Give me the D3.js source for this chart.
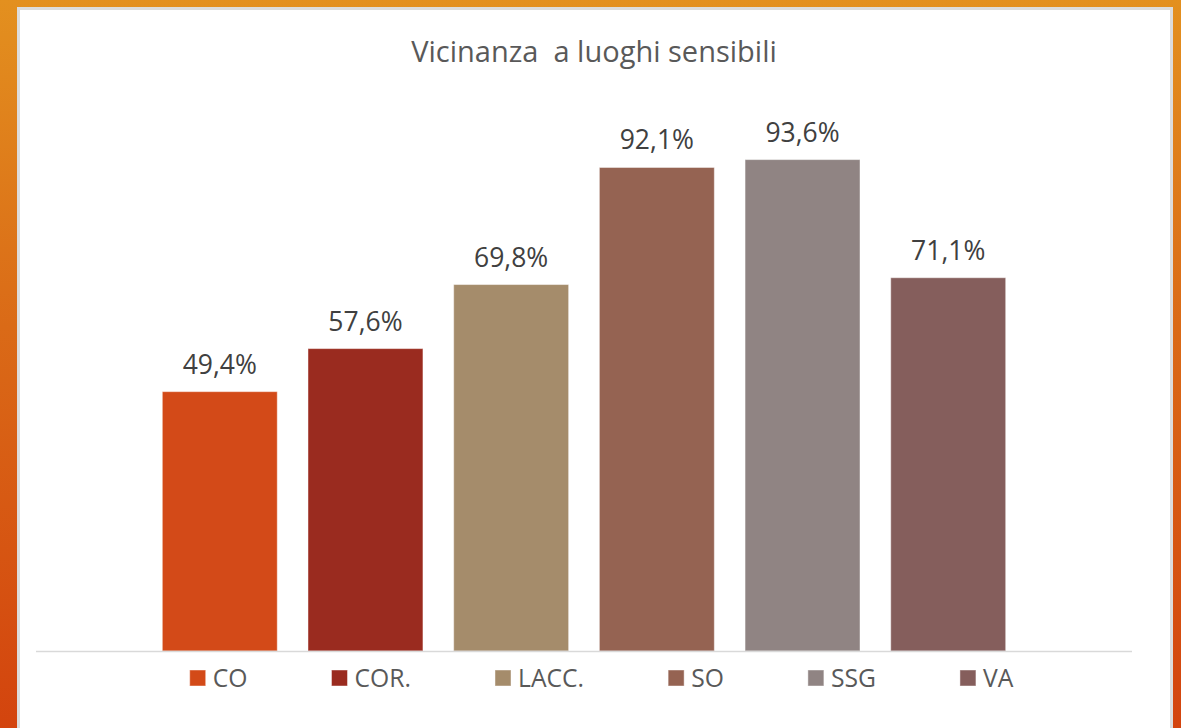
<!DOCTYPE html>
<html><head><meta charset="utf-8">
<script src="https://cdn.jsdelivr.net/npm/d3@7"></script>
<style>html,body{margin:0;padding:0;overflow:hidden;background:#fff}</style>
</head><body><svg id="c" width="1181" height="728"></svg>
<script>
const titleText = "Vicinanza  a luoghi sensibili";
const categories = ["CO", "COR.", "LACC.", "SO", "SSG", "VA"];
const values = [49.4, 57.6, 69.8, 92.1, 93.6, 71.1];
const colors = ["#D34A18", "#9A2B1F", "#A58C6B", "#956352", "#908483", "#855E5C"];
const yDomain = [0, 100];

const W = 1181, H = 728;
const FONT = "'Open Sans', 'Noto Sans', sans-serif";
const svg = d3.select("#c");

// background gradient
const defs = svg.append("defs");
const g = defs.append("linearGradient").attr("id", "bg").attr("x1", 0).attr("y1", 0).attr("x2", 0).attr("y2", 1);
g.append("stop").attr("offset", "0%").attr("stop-color", "#E3901F");
g.append("stop").attr("offset", "45%").attr("stop-color", "#DA6A17");
g.append("stop").attr("offset", "100%").attr("stop-color", "#D3440E");
svg.append("rect").attr("width", W).attr("height", H).attr("fill", "url(#bg)");

// white panel
svg.append("rect").attr("x", 18.5).attr("y", 8.5).attr("width", 1153).attr("height", H + 20)
  .attr("fill", "#fff").attr("stroke", "#DCDCDC").attr("stroke-width", 3);

const axisLeft = 36, axisRight = 1132, baseY = 651, topY = 126;
const x = d3.scaleBand().domain(categories).range([axisLeft, axisRight])
  .paddingInner(0.211).paddingOuter(0.867);
const y = d3.scaleLinear().domain(yDomain).range([baseY, topY]);

const loc = d3.formatLocale({decimal: ",", thousands: ".", grouping: [3], currency: ["", "€"]});
const fmt = v => loc.format(".1f")(v) + "%";

// title
svg.append("text").attr("x", 594).attr("y", 62).attr("text-anchor", "middle")
  .style("white-space", "pre").attr("xml:space", "preserve")
  .attr("font-family", FONT).attr("font-size", 29).attr("fill", "#595959").text(titleText);

// bars
svg.append("g").selectAll("rect").data(categories).join("rect")
  .attr("x", d => x(d)).attr("width", x.bandwidth())
  .attr("y", (d, i) => y(values[i])).attr("height", (d, i) => y(0) - y(values[i]))
  .attr("fill", (d, i) => colors[i])
  .attr("stroke", "#fff").attr("stroke-opacity", 0.45).attr("stroke-width", 1);

// axis line
const xAxis = d3.axisBottom(x).tickSize(0).tickFormat("");
const ax = svg.append("g").attr("transform", `translate(0,${baseY})`).call(xAxis);
ax.select(".domain").attr("d", `M${axisLeft},0.5H${axisRight}`).attr("stroke", "#D9D9D9").attr("stroke-width", 1.5);

// value labels
svg.append("g").selectAll("text").data(categories).join("text")
  .attr("x", d => x(d) + x.bandwidth() / 2).attr("y", (d, i) => y(values[i]) - 18)
  .attr("text-anchor", "middle").attr("font-family", FONT).attr("font-size", 26.5).attr("fill", "#404040")
  .text((d, i) => fmt(values[i]));

// legend
const legSq = 16, legGap = 7, itemGap = 84, legCenter = 601.5, legBase = 687, lsx = 0.95;
const leg = svg.append("g");
const items = leg.selectAll("g").data(categories).join("g");
items.append("rect").attr("width", legSq).attr("height", legSq).attr("y", legBase - 17)
  .attr("fill", (d, i) => colors[i]).attr("stroke", "#fff").attr("stroke-opacity", 0.45);
const lt = items.append("text").attr("font-family", FONT).attr("font-size", 26).attr("fill", "#595959")
  .text(d => d);
const widths = lt.nodes().map(n => n.getComputedTextLength() * lsx);
const itemW = widths.map(w => legSq + legGap + w);
const total = d3.sum(itemW) + itemGap * (categories.length - 1);
let cx = legCenter - total / 2;
items.each(function (d, i) {
  d3.select(this).attr("transform", `translate(${cx},0)`);
  d3.select(this).select("text").attr("transform", `translate(${legSq + legGap},${legBase}) scale(${lsx},1)`);
  cx += itemW[i] + itemGap;
});
</script></body></html>
